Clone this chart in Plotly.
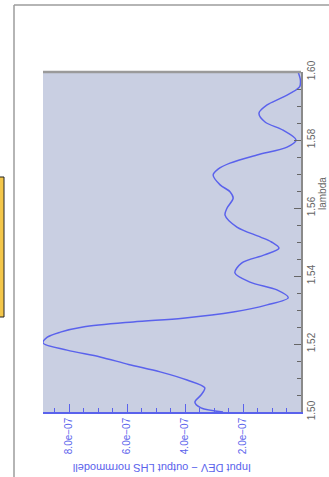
import plotly.graph_objects as go

# Wavelength samples and the normalised model difference at each one
lambda_vals = [1.5000, 1.5012, 1.5029, 1.5050, 1.5071, 1.5094, 1.5118, 1.5140, 1.5162,
               1.5182, 1.5203, 1.5220, 1.5235, 1.5250, 1.5265, 1.5276, 1.5294, 1.5315,
               1.5336, 1.5359, 1.5382, 1.5409, 1.5438, 1.5462, 1.5482, 1.5500, 1.5515,
               1.5544, 1.5579, 1.5600, 1.5629, 1.5648, 1.5668, 1.5697, 1.5715, 1.5732,
               1.5756, 1.5779, 1.5800, 1.5829, 1.5853, 1.5879, 1.5903, 1.5926, 1.5956,
               1.5976, 1.6000]
diff_vals = [2.69e-7, 3.45e-7, 3.66e-7, 3.45e-7, 3.32e-7, 3.93e-7, 4.86e-7, 5.95e-7, 6.93e-7,
             8.07e-7, 8.90e-7, 8.75e-7, 8.30e-7, 7.52e-7, 5.79e-7, 4.07e-7, 2.34e-7, 1.17e-7,
             0.44e-7, 0.83e-7, 1.76e-7, 2.28e-7, 2.05e-7, 1.26e-7, 0.76e-7, 1.02e-7, 1.41e-7,
             2.21e-7, 2.62e-7, 2.55e-7, 2.34e-7, 2.45e-7, 2.79e-7, 3.03e-7, 2.85e-7, 2.45e-7,
             1.52e-7, 0.48e-7, 0.17e-7, 0.62e-7, 1.24e-7, 1.45e-7, 1.17e-7, 0.62e-7, 0.05e-7,
             0.02e-7, 0.10e-7]

value_ticks = [2e-7, 4e-7, 6e-7, 8e-7]
value_tick_text = ["2.0e\u221207", "4.0e\u221207", "6.0e\u221207", "8.0e\u221207"]

BLUE = "#5a62ec"
GREY = "#8a8a8a"
FONT = "Liberation Sans"

# plot-area geometry in pixels
W, H = 329, 477
L, R, T, B = 43, 301, 72, 412


def px(x):
    return (x - L) / (R - L)


def py(y):
    return (B - y) / (B - T)


fig = go.Figure()
fig.add_trace(go.Scatter(
    x=diff_vals, y=lambda_vals, mode="lines",
    line=dict(color=BLUE, width=1.5, shape="spline", smoothing=0.9),
    hoverinfo="skip", showlegend=False,
))

fig.update_layout(
    width=W, height=H,
    margin=dict(l=L, r=W - R, t=T, b=H - B, pad=0),
    paper_bgcolor="white",
    plot_bgcolor="#c9cfe2",
    font=dict(family=FONT, size=10),
    xaxis=dict(
        range=[8.9e-7, 0], showgrid=False, zeroline=False,
        showline=True, linecolor=BLUE, linewidth=1.5,
        ticks="inside", ticklen=8, tickcolor=BLUE, tickwidth=1,
        tickvals=value_ticks, ticktext=value_tick_text,
        tickangle=-90, tickfont=dict(color=BLUE, size=10, family=FONT),
        minor=dict(dtick=0.5e-7, tick0=0, ticks="inside", ticklen=4,
                   tickcolor=BLUE, tickwidth=1, showgrid=False),
    ),
    yaxis=dict(
        range=[1.50, 1.60], side="right", showgrid=False, zeroline=False,
        showline=True, linecolor=GREY, linewidth=1.5,
        ticks="inside", ticklen=7, tickcolor="#666666", tickwidth=1,
        dtick=0.02, tick0=1.50, tickformat=".2f",
        tickangle=-90, tickfont=dict(color="#666666", size=10, family=FONT),
        minor=dict(dtick=0.005, ticks="inside", ticklen=4,
                   tickcolor="#666666", tickwidth=1, showgrid=False),
    ),
    shapes=[
        # top edge of plot area
        dict(type="line", xref="paper", yref="paper", x0=0, x1=1, y0=1, y1=1,
             line=dict(color="#9a9a9a", width=2.5), layer="above"),
        # outer window frame
        dict(type="line", xref="paper", yref="paper", x0=px(14), x1=px(14),
             y0=py(5), y1=py(480), line=dict(color="#9d9d9d", width=1.5)),
        dict(type="line", xref="paper", yref="paper", x0=px(14), x1=px(332),
             y0=py(5), y1=py(5), line=dict(color="#9d9d9d", width=1.5)),
        # yellow side panel
        dict(type="rect", xref="paper", yref="paper", x0=px(-3), x1=px(4),
             y0=py(317), y1=py(177), fillcolor="#f3c64a",
             line=dict(color="#222222", width=1)),
    ],
    annotations=[
        dict(text="Input DEV \u2212 output LHS normmodell", xref="paper", yref="paper",
             x=px(162), y=py(468), showarrow=False, textangle=180,
             font=dict(color=BLUE, size=11, family=FONT),
             xanchor="center", yanchor="middle"),
        dict(text="lambda", xref="paper", yref="paper",
             x=px(322), y=py(194), showarrow=False, textangle=-90,
             font=dict(color="#666666", size=10, family=FONT),
             xanchor="center", yanchor="middle"),
    ],
)

fig.write_html("out.html")
